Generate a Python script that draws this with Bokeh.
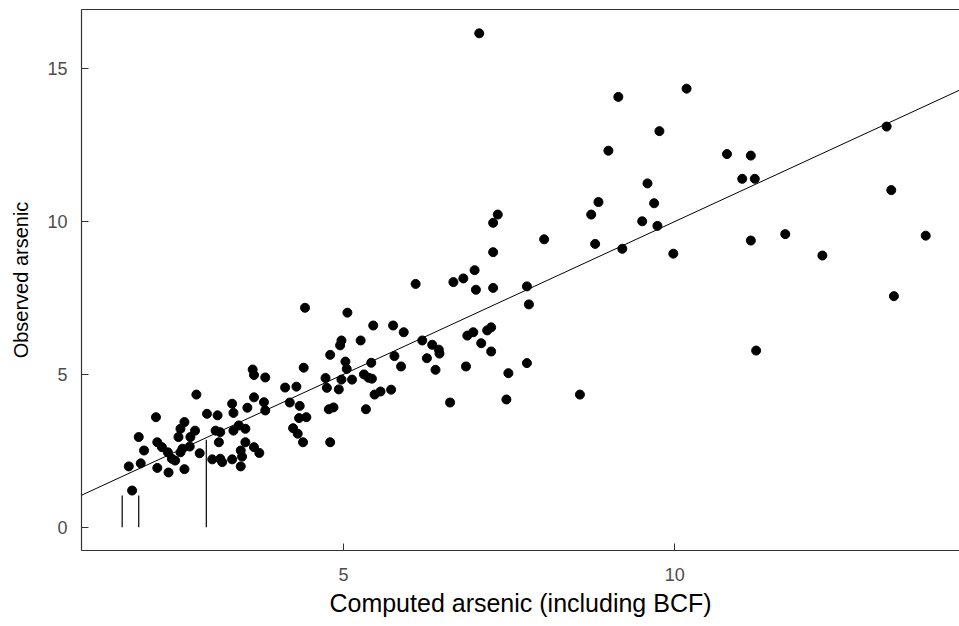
from bokeh.plotting import figure
from bokeh.models import LinearAxis, FixedTicker, Slope, Range1d
from bokeh.embed import file_html
from bokeh.resources import INLINE

computed = [2.78, 2.17, 1.91, 1.99, 1.76, 1.94, 2.19, 2.36, 2.60, 1.81,
            2.19, 2.26, 2.35, 2.41, 2.46, 2.54, 2.57, 2.51, 2.54, 2.60,
            2.69, 2.76, 2.68, 2.83, 2.94, 3.10, 3.07, 3.14, 3.12, 3.02,
            3.14, 3.17, 3.32, 3.45, 3.47, 3.45, 3.52, 3.65, 3.73, 3.34,
            3.42, 3.52, 3.32, 3.34, 3.55, 3.65, 3.80, 3.82,
            6.09, 6.66, 6.81, 7.00, 7.26, 6.98, 4.42, 5.06, 5.45, 5.75,
            5.91, 4.97, 4.95, 5.26, 4.80, 5.03, 5.05, 5.42, 5.77, 5.87,
            6.19, 6.34, 6.44, 6.45, 6.26, 6.39, 6.87, 6.96, 7.17, 7.23,
            7.08, 7.23, 6.85, 6.61, 4.40, 4.73, 4.75, 4.93, 4.97, 5.13,
            5.31, 5.38, 5.43, 5.47, 5.56, 5.72, 5.34, 4.78, 4.85, 4.12,
            4.29, 4.19, 4.34, 4.33, 4.44, 4.24, 4.31, 4.39, 4.80,
            7.33, 7.26, 7.26, 8.03, 8.74, 8.85, 9.51, 8.80, 9.21, 7.77,
            7.80, 7.49, 7.46, 7.77, 8.57, 9.15, 10.18, 9.77, 9.00, 10.79,
            11.15, 11.02, 11.21, 9.59, 9.69, 9.74, 9.98, 11.15, 11.67, 12.23,
            13.20, 13.27, 13.79, 13.31, 11.23, 7.05,
            3.63, 3.65, 3.82]
observed = [4.34, 3.60, 2.95, 2.51, 1.99, 2.09, 1.94, 1.79, 1.90, 1.20,
            2.78, 2.62, 2.45, 2.24, 2.18, 2.45, 2.57, 2.95, 3.22, 3.44,
            2.95, 3.16, 2.64, 2.42, 3.71, 3.66, 3.16, 3.11, 2.78, 2.22,
            2.24, 2.13, 2.22, 1.99, 2.31, 2.51, 2.78, 2.62, 2.43, 3.16,
            3.33, 3.22, 4.04, 3.74, 3.91, 4.25, 4.09, 3.82,
            7.96, 8.02, 8.14, 7.77, 7.83, 8.41, 7.18, 7.02, 6.60, 6.60,
            6.38, 6.11, 5.95, 6.11, 5.64, 5.42, 5.18, 5.38, 5.60, 5.26,
            6.11, 5.97, 5.81, 5.68, 5.53, 5.15, 6.27, 6.38, 6.44, 6.54,
            6.02, 5.75, 5.26, 4.08, 5.22, 4.88, 4.56, 4.51, 4.83, 4.83,
            5.00, 4.89, 4.86, 4.34, 4.44, 4.50, 3.86, 3.86, 3.92, 4.57,
            4.60, 4.08, 3.97, 3.57, 3.60, 3.24, 3.06, 2.78, 2.78,
            10.23, 9.96, 9.00, 9.42, 10.23, 10.64, 10.01, 9.27, 9.11, 7.88,
            7.29, 5.04, 4.18, 5.37, 4.34, 14.08, 14.35, 12.96, 12.32, 12.21,
            12.16, 11.40, 11.40, 11.25, 10.60, 9.86, 8.95, 9.38, 9.59, 8.89,
            13.11, 11.03, 9.54, 7.56, 5.78, 16.16,
            5.16, 4.98, 4.90]

seg_x = [1.66, 1.91, 2.93]
seg_top = [1.04, 1.04, 2.86]
seg_base = [0.0, 0.0, 0.0]

line_slope = 1.0
line_intercept = 0.0

x_ticks = [5, 10]
y_ticks = [0, 5, 10, 15]

p = figure(width=959, height=626, output_backend="svg", toolbar_location=None,
           x_range=Range1d(1.046, 14.30), y_range=Range1d(-0.762, 16.94),
           min_border_left=81, min_border_right=0, min_border_top=9,
           min_border_bottom=76, x_axis_label="Computed arsenic (including BCF)",
           y_axis_label="Observed arsenic")
p.outline_line_color = None
p.grid.visible = False
p.background_fill_color = "white"
p.border_fill_color = "white"

for ax, ticks in ((p.xaxis[0], x_ticks), (p.yaxis[0], y_ticks)):
    ax.ticker = FixedTicker(ticks=ticks)
    ax.minor_tick_line_color = None
    ax.major_tick_in = 7
    ax.major_tick_out = 0
    ax.major_tick_line_color = "#333333"
    ax.axis_line_color = "#333333"
    ax.axis_line_width = 1.2
    ax.major_label_text_font = "Liberation Sans"
    ax.major_label_text_font_size = "18px"
    ax.major_label_text_color = "#4D4D4D"
    ax.axis_label_text_font = "Liberation Sans"
    ax.axis_label_text_font_style = "normal"
    ax.axis_label_text_color = "black"

p.xaxis[0].axis_label_text_font_size = "25px"
p.yaxis[0].axis_label_text_font_size = "20px"
p.xaxis[0].major_label_standoff = 17
p.xaxis[0].axis_label_standoff = 5
p.yaxis[0].major_label_standoff = 14
p.yaxis[0].axis_label_standoff = 12

top = LinearAxis(ticker=FixedTicker(ticks=[]), major_tick_in=0, major_tick_out=0,
                 minor_tick_line_color=None, major_label_standoff=0,
                 major_label_text_font_size="0px", axis_line_color="#333333",
                 axis_line_width=1.2)
p.add_layout(top, "above")

p.add_layout(Slope(gradient=line_slope, y_intercept=line_intercept,
                   line_color="black", line_width=1))

p.segment(x0=seg_x, y0=seg_base, x1=seg_x, y1=seg_top, line_color="black", line_width=1.2)

p.scatter(computed, observed, size=9, fill_color="black", line_color="black")

open("out.html", "w").write(file_html(p, INLINE))
